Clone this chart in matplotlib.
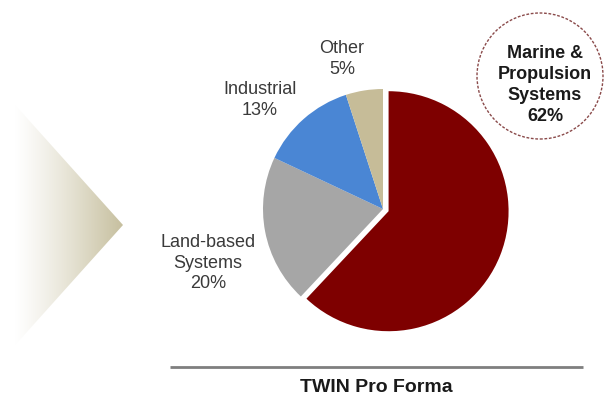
# Revenue mix pie (TWIN Pro Forma) with arrow graphic on the left
import numpy as np
import matplotlib
matplotlib.use("Agg")
import matplotlib.pyplot as plt
from matplotlib import font_manager
from matplotlib.patches import Polygon, Circle

# --- data ---
segments = ["Marine &\nPropulsion\nSystems", "Land-based\nSystems", "Industrial", "Other"]
shares = [62, 20, 13, 5]
colors = ["#7E0000", "#A6A6A6", "#4A86D4", "#C6BC98"]
title = "TWIN Pro Forma"

# pick a narrow Arial-like face if there is one
names = {f.name for f in font_manager.fontManager.ttflist}
if "Liberation Sans Narrow" in names:
    FONT, SZ, SZB, SZT = "Liberation Sans Narrow", 16, 17, 17
else:
    FONT, SZ, SZB, SZT = "Liberation Sans", 13, 13, 14

W, H = 607, 401
fig = plt.figure(figsize=(W / 100, H / 100), dpi=100)
ax = fig.add_axes([0, 0, 1, 1])


def py(y):
    # pixel row (from top) -> data y
    return H - y


# arrow shape on the left, fading to white
grad = np.linspace(0, 1, 256)
base = np.array([0.78, 0.75, 0.62])
img = np.ones((2, 256, 4))
img[..., :3] = base
img[..., 3] = grad ** 1.2
tri = Polygon([(0, py(88)), (123, py(225)), (0, py(362))], closed=True,
              facecolor="none", edgecolor="none")
ax.add_patch(tri)
im = ax.imshow(img, extent=[14, 123, py(362), py(88)], aspect="auto",
               interpolation="bilinear", zorder=1)
im.set_clip_path(tri)

# pie (explode is in data units, so scale it by the radius)
cx, cy, r = 383, py(209), 120
explode = [0.05 * r, 0, 0, 0]
ax.pie(shares, explode=explode, colors=colors, startangle=90, counterclock=False,
       radius=r, center=(cx, cy), wedgeprops=dict(linewidth=0))

# labels for the small slices
label_pos = {1: (208, 263), 2: (260, 100), 3: (342, 59)}
for i, (x, y) in label_pos.items():
    ax.text(x, py(y), f"{segments[i]}\n{shares[i]}%", ha="center", va="center",
            fontsize=SZ, family=FONT, color="#3a3a3a", linespacing=1.25)

# highlighted main segment in a dashed circle
ax.add_patch(Circle((540, py(76)), 63, facecolor="white", edgecolor="#8A4A4A",
                    linestyle=(0, (2, 1.2)), linewidth=1.0, zorder=3))
ax.text(545, py(85), f"{segments[0]}\n{shares[0]}%", ha="center", va="center",
        fontsize=SZB, family=FONT, fontweight="bold", color="#1a1a1a",
        linespacing=1.3, zorder=4)

# rule and caption
ax.plot([170, 583], [py(367), py(367)], color="#7F7F7F", linewidth=2,
        solid_capstyle="butt")
ax.text(376, py(388), title, ha="center", va="center", fontsize=SZT,
        family=FONT, fontweight="bold", color="#1a1a1a")

ax.set_xlim(0, W)
ax.set_ylim(0, H)
ax.set_aspect("auto")
ax.axis("off")
fig.savefig("out.png", dpi=100)
